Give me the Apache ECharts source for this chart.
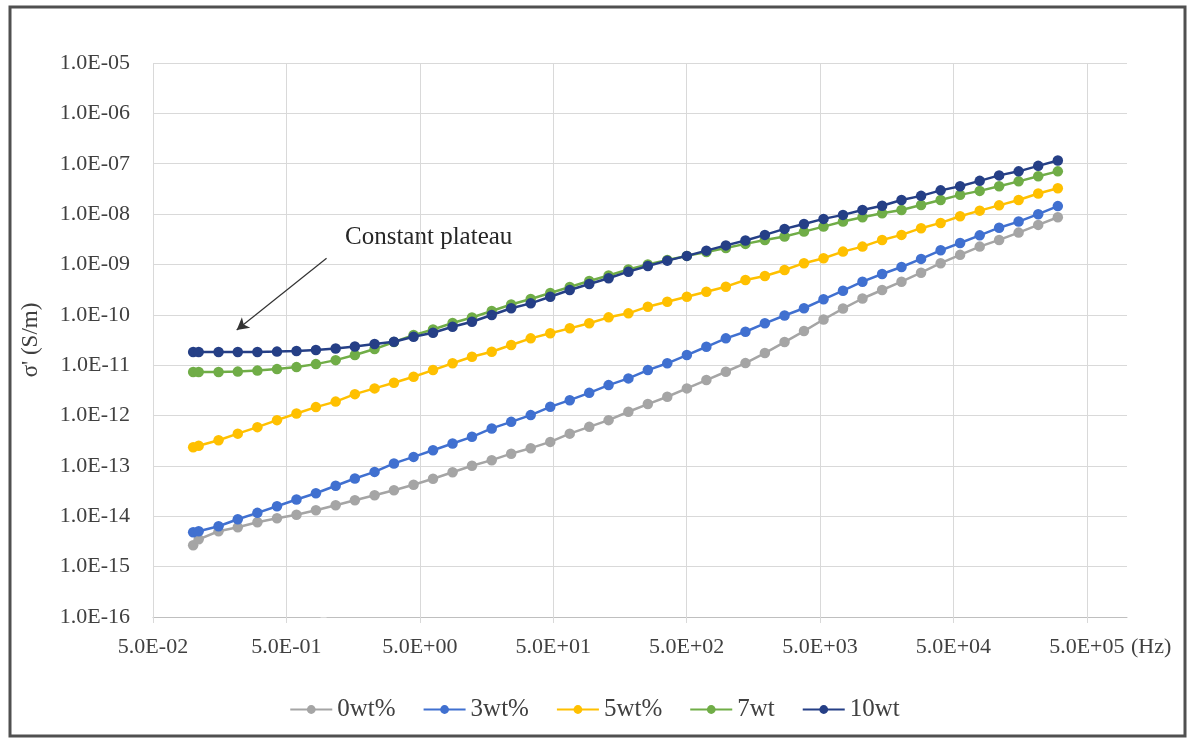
<!DOCTYPE html>
<html><head><meta charset="utf-8">
<script src="https://cdn.jsdelivr.net/npm/echarts@6/dist/echarts.min.js"></script>
<style>html,body{margin:0;padding:0;background:#fff}#c{width:1189px;height:738px}</style>
</head><body><div id="c"></div>
<script>
// Frequency (Hz) of each measured point
const freqHz = [0.1, 0.11, 0.155, 0.216, 0.303, 0.425, 0.595, 0.832, 1.17, 1.63, 2.29, 3.2, 4.49, 6.28, 8.8,
  12.3, 17.3, 24.2, 33.9, 47.5, 66.5, 93.1, 130, 183, 256, 358, 502, 703, 984, 1380, 1930, 2710, 3790,
  5310, 7430, 10400, 14600, 20400, 28600, 40100, 56100, 78700, 110000, 154000, 216000, 303000];

// sigma' (S/m) for each sample
const sigma0wt = [2.65e-15, 3.49e-15, 5.04e-15, 6.04e-15, 7.6e-15, 9.13e-15, 1.07e-14, 1.32e-14, 1.66e-14, 2.08e-14,
  2.61e-14, 3.29e-14, 4.23e-14, 5.57e-14, 7.5e-14, 1.01e-13, 1.3e-13, 1.75e-13, 2.25e-13, 3.0e-13, 4.37e-13,
  5.96e-13, 8.1e-13, 1.19e-12, 1.69e-12, 2.36e-12, 3.46e-12, 5.06e-12, 7.4e-12, 1.1e-11, 1.74e-11, 2.88e-11,
  4.76e-11, 8.07e-11, 1.33e-10, 2.11e-10, 3.11e-10, 4.55e-10, 6.87e-10, 1.06e-9, 1.55e-9, 2.26e-9, 3.07e-9,
  4.29e-9, 6.1e-9, 8.67e-9];
const sigma3wt = [4.81e-15, 5.04e-15, 6.33e-15, 8.71e-15, 1.17e-14, 1.58e-14, 2.15e-14, 2.86e-14, 4.04e-14, 5.62e-14,
  7.6e-14, 1.12e-13, 1.51e-13, 2.05e-13, 2.79e-13, 3.78e-13, 5.55e-13, 7.5e-13, 1.02e-12, 1.49e-12, 2.02e-12,
  2.82e-12, 4.02e-12, 5.47e-12, 8.0e-12, 1.09e-11, 1.59e-11, 2.32e-11, 3.41e-11, 4.61e-11, 6.78e-11, 9.68e-11,
  1.35e-10, 2.03e-10, 3.01e-10, 4.55e-10, 6.47e-10, 8.91e-10, 1.29e-9, 1.91e-9, 2.67e-9, 3.78e-9, 5.37e-9,
  7.1e-9, 9.95e-9, 1.44e-8];
const sigma5wt = [2.35e-13, 2.52e-13, 3.24e-13, 4.37e-13, 5.88e-13, 8.1e-13, 1.1e-12, 1.47e-12, 1.89e-12, 2.66e-12,
  3.46e-12, 4.47e-12, 5.88e-12, 8.0e-12, 1.09e-11, 1.47e-11, 1.85e-11, 2.51e-11, 3.41e-11, 4.29e-11, 5.39e-11,
  6.78e-11, 8.91e-11, 1.07e-10, 1.45e-10, 1.82e-10, 2.29e-10, 2.88e-10, 3.62e-10, 4.92e-10, 5.9e-10, 7.78e-10,
  1.06e-9, 1.33e-9, 1.8e-9, 2.26e-9, 3.07e-9, 3.86e-9, 5.25e-9, 6.68e-9, 9.08e-9, 1.17e-8, 1.49e-8, 1.91e-8,
  2.56e-8, 3.27e-8];
const sigma7wt = [7.3e-12, 7.3e-12, 7.3e-12, 7.46e-12, 7.8e-12, 8.36e-12, 9.16e-12, 1.05e-11, 1.26e-11, 1.59e-11,
  2.09e-11, 2.88e-11, 3.96e-11, 5.1e-11, 6.87e-11, 8.83e-11, 1.19e-10, 1.6e-10, 2.06e-10, 2.71e-10, 3.57e-10,
  4.7e-10, 6.04e-10, 7.96e-10, 1.0e-9, 1.23e-9, 1.48e-9, 1.77e-9, 2.13e-9, 2.56e-9, 3.07e-9, 3.6e-9, 4.49e-9,
  5.64e-9, 7.1e-9, 8.67e-9, 1.04e-8, 1.21e-8, 1.52e-8, 1.91e-8, 2.41e-8, 2.89e-8, 3.56e-8, 4.47e-8, 5.62e-8,
  7.06e-8];
const sigma10wt = [1.82e-11, 1.82e-11, 1.82e-11, 1.82e-11, 1.82e-11, 1.86e-11, 1.91e-11, 2.0e-11, 2.14e-11, 2.34e-11,
  2.63e-11, 2.92e-11, 3.67e-11, 4.41e-11, 5.8e-11, 7.29e-11, 9.9e-11, 1.35e-10, 1.69e-10, 2.29e-10, 3.11e-10,
  4.09e-10, 5.32e-10, 7.19e-10, 9.33e-10, 1.19e-9, 1.48e-9, 1.88e-9, 2.39e-9, 3.0e-9, 3.86e-9, 5.08e-9, 6.38e-9,
  8.03e-9, 9.64e-9, 1.21e-8, 1.46e-8, 1.91e-8, 2.3e-8, 2.96e-8, 3.56e-8, 4.57e-8, 5.87e-8, 7.06e-8, 9.08e-8,
  1.16e-7];

const seriesNames = ['0wt%', '3wt%', '5wt%', '7wt', '10wt'];
const seriesValues = [sigma0wt, sigma3wt, sigma5wt, sigma7wt, sigma10wt];
const seriesColors = ['#A5A5A5', '#4070D0', '#FFC000', '#70AD47', '#253F86'];

const xTickFreqs = [0.05, 0.5, 5, 50, 500, 5000, 50000, 500000];
const xTickLabels = ['5.0E-02', '5.0E-01', '5.0E+00', '5.0E+01', '5.0E+02', '5.0E+03', '5.0E+04', '5.0E+05'];
const xMaxFreq = 1e6;
const yTickValues = [1e-16, 1e-15, 1e-14, 1e-13, 1e-12, 1e-11, 1e-10, 1e-9, 1e-8, 1e-7, 1e-6, 1e-5];
const yTickLabels = ['1.0E-16', '1.0E-15', '1.0E-14', '1.0E-13', '1.0E-12', '1.0E-11', '1.0E-10', '1.0E-09',
  '1.0E-08', '1.0E-07', '1.0E-06', '1.0E-05'];

// annotation arrow (frequency, sigma) from / to
const arrowFrom = [1.0, 1.33e-9];
const arrowTo = [0.212, 4.99e-11];
const annotationText = 'Constant plateau';

const FONT = '"Liberation Serif","Times New Roman",serif';
const TXT = '#404040';
const GRID = '#D9D9D9';
const lg = Math.log10;

const xTickPos = xTickFreqs.map(lg);
const yTickPos = yTickValues.map(lg);

function labelFor(v, pos, labels) {
  for (let i = 0; i < pos.length; i++) if (Math.abs(pos[i] - v) < 0.02) return labels[i];
  return '';
}

const series = seriesNames.map((name, si) => ({
  type: 'line',
  name: name,
  data: freqHz.map((f, i) => [lg(f), lg(seriesValues[si][i])]),
  symbol: 'circle',
  symbolSize: 10.5,
  lineStyle: { width: 2.5, color: seriesColors[si] },
  itemStyle: { color: seriesColors[si] },
  z: 2 + si
}));

series[4].markLine = {
  silent: true,
  symbol: ['none', 'arrow'],
  symbolSize: [10, 12],
  label: { show: false },
  lineStyle: { color: '#333333', width: 1.2, type: 'solid' },
  data: [[{ coord: [lg(arrowFrom[0]), lg(arrowFrom[1])] }, { coord: [lg(arrowTo[0]), lg(arrowTo[1])] }]]
};

const splitColors = xTickPos.map(() => GRID).concat(['rgba(0,0,0,0)']);

const option = {
  animation: false,
  backgroundColor: '#ffffff',
  grid: { left: 153, right: 62, top: 63, bottom: 121, containLabel: false },
  xAxis: {
    type: 'value',
    min: lg(xTickFreqs[0]),
    max: lg(xMaxFreq),
    interval: 1,
    axisLine: { show: true, lineStyle: { color: '#BFBFBF', width: 1 } },
    axisTick: { show: true, length: 6, customValues: xTickPos, lineStyle: { color: GRID } },
    splitLine: { show: true, lineStyle: { color: splitColors, width: 1 } },
    axisLabel: {
      customValues: xTickPos,
      margin: 19,
      fontFamily: FONT, fontSize: 22, color: TXT,
      formatter: v => labelFor(v, xTickPos, xTickLabels)
    }
  },
  yAxis: {
    type: 'value',
    min: lg(yTickValues[0]),
    max: lg(yTickValues[yTickValues.length - 1]),
    interval: 1,
    axisLine: { show: false },
    axisTick: { show: true, length: 6, lineStyle: { color: GRID } },
    splitLine: { show: true, lineStyle: { color: GRID, width: 1 } },
    axisLabel: {
      margin: 23,
      fontFamily: FONT, fontSize: 22, color: TXT,
      formatter: v => labelFor(v, yTickPos, yTickLabels)
    }
  },
  legend: {
    data: seriesNames,
    left: 'center',
    top: 692,
    itemWidth: 42,
    itemHeight: 11,
    itemGap: 27,
    textStyle: { fontFamily: FONT, fontSize: 25, color: TXT }
  },
  graphic: [
    { type: 'rect', shape: { x: 10, y: 7, width: 1175, height: 729 },
      style: { fill: 'none', stroke: '#505050', lineWidth: 3 }, z: 100 },
    { type: 'text', x: 31, y: 340, rotation: Math.PI / 2,
      style: { text: "σ' (S/m)", fontFamily: FONT, fontSize: 23, fill: TXT, align: 'center', verticalAlign: 'middle' } },
    { type: 'text', x: 1131, y: 647,
      style: { text: '(Hz)', fontFamily: FONT, fontSize: 22, fill: TXT, align: 'left', verticalAlign: 'middle' } },
    { type: 'text', x: 345, y: 237,
      style: { text: annotationText, fontFamily: FONT, fontSize: 25, fill: '#262626', align: 'left', verticalAlign: 'middle' } }
  ],
  series: series
};

const chart = echarts.init(document.getElementById('c'), null, { renderer: 'canvas' });
chart.setOption(option);
</script>
</body></html>
